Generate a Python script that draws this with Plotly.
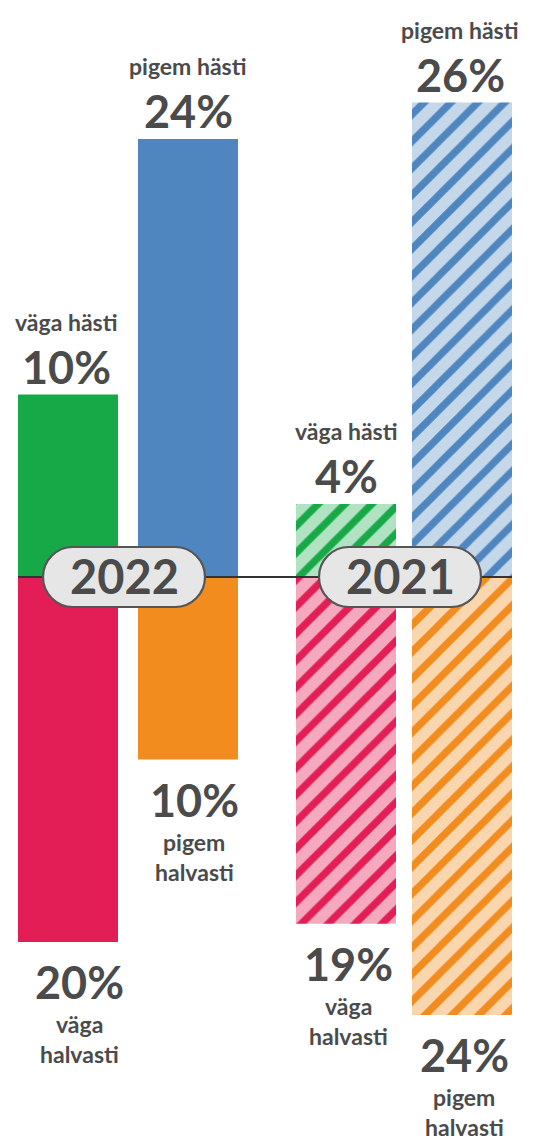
import plotly.graph_objects as go

# ---------------- data ----------------
years = ["2022", "2021"]
top_categories = ["väga hästi", "pigem hästi"]
bottom_categories = ["väga halvasti", "pigem halvasti"]
top_2022 = [10, 24]
bottom_2022 = [20, 10]
top_2021 = [4, 26]
bottom_2021 = [19, 24]

# ---------------- style / layout ----------------
PAGE_W, PAGE_H = 535, 1140
OFF = 8  # default body margin of the page
W, H = PAGE_W - OFF, PAGE_H - OFF
PX_PER_UNIT = 18.25
BASE_PX = 577  # baseline position in page pixels
y_top = (BASE_PX - OFF) / PX_PER_UNIT
y_bot = -(PAGE_H - BASE_PX) / PX_PER_UNIT

bar_centers = {"2022": [68, 188], "2021": [346, 462]}
pill_centers = {"2022": 124, "2021": 400}
top_label_dx = {"2022": [-2, 0], "2021": [0, -2]}
bottom_label_dx = {"2022": [11, 6], "2021": [2, 2]}
BAR_W = 100

solid_top = ["#17a948", "#4f86c0"]
solid_bot = ["#e31e56", "#f28c1e"]
light_top = ["#b1e3c3", "#c5d8ea"]
light_bot = ["#f5a9be", "#fad6ae"]

TXT = "#4b4b4b"
FONT = "Lato"
PCT_SIZE = 45
WORD_SIZE = 23

fig = go.Figure()

data = {
    "2022": (top_2022, bottom_2022),
    "2021": (top_2021, bottom_2021),
}

for yr in years:
    tops, bots = data[yr]
    for i in range(2):
        xc = bar_centers[yr][i]
        for val, sign, solid, light in (
            (tops[i], 1, solid_top[i], light_top[i]),
            (bots[i], -1, solid_bot[i], light_bot[i]),
        ):
            marker = dict(color=solid, line=dict(width=0))
            if yr == "2021":
                marker = dict(
                    color=light,
                    line=dict(width=0),
                    pattern=dict(shape="/", fgcolor=solid, bgcolor=light,
                                 size=19, solidity=0.38, fillmode="replace"),
                )
            fig.add_trace(go.Bar(
                x=[xc], y=[sign * val], width=[BAR_W], base=0,
                marker=marker, showlegend=False, hoverinfo="skip",
            ))

annotations = []
for yr in years:
    tops, bots = data[yr]
    for i in range(2):
        xc = bar_centers[yr][i]
        tdx = top_label_dx[yr][i]
        bdx = bottom_label_dx[yr][i]
        # top labels
        annotations.append(dict(
            x=xc, y=tops[i], xref="x", yref="y", text=f"{tops[i]}%",
            showarrow=False, yanchor="middle", yshift=28, xshift=tdx,
            font=dict(family=FONT, size=PCT_SIZE, color=TXT, weight="bold"),
        ))
        annotations.append(dict(
            x=xc, y=tops[i], xref="x", yref="y", text=top_categories[i],
            showarrow=False, yanchor="middle", yshift=28 + 45, xshift=tdx,
            font=dict(family=FONT, size=WORD_SIZE, color=TXT, weight="bold"),
        ))
        # bottom labels
        annotations.append(dict(
            x=xc, y=-bots[i], xref="x", yref="y", text=f"{bots[i]}%",
            showarrow=False, yanchor="middle", yshift=-40, xshift=bdx,
            font=dict(family=FONT, size=PCT_SIZE, color=TXT, weight="bold"),
        ))
        for j, word in enumerate(bottom_categories[i].split(" ")):
            annotations.append(dict(
                x=xc, y=-bots[i], xref="x", yref="y", text=word,
                showarrow=False, yanchor="middle", yshift=-40 - 42 - 30 * j,
                xshift=bdx,
                font=dict(family=FONT, size=WORD_SIZE, color=TXT, weight="bold"),
            ))
    # year pill label
    annotations.append(dict(
        x=pill_centers[yr], y=0, xref="x", yref="y", text=yr,
        showarrow=False, yanchor="middle", yshift=1,
        font=dict(family=FONT, size=47, color=TXT, weight="bold"),
    ))

# rounded pill path (pixels relative to anchor)
R, HW = 30, 81
k = 0.5523 * R
s = HW - R
pill = (
    f"M {-s},{-R} L {s},{-R} "
    f"C {s + k},{-R} {HW},{-k} {HW},0 "
    f"C {HW},{k} {s + k},{R} {s},{R} "
    f"L {-s},{R} "
    f"C {-s - k},{R} {-HW},{k} {-HW},0 "
    f"C {-HW},{-k} {-s - k},{-R} {-s},{-R} Z"
)

shapes = [dict(type="line", xref="x", yref="y", x0=18, x1=512, y0=0, y1=0,
               line=dict(color="#333333", width=2), layer="above")]
for yr in years:
    shapes.append(dict(
        type="path", xref="x", yref="y", xsizemode="pixel", ysizemode="pixel",
        xanchor=pill_centers[yr], yanchor=0, path=pill,
        fillcolor="#e6e6e6", line=dict(color="#555555", width=2.2), layer="above",
    ))

fig.update_layout(
    width=W, height=H, autosize=False,
    margin=dict(l=0, r=0, t=0, b=0, pad=0),
    paper_bgcolor="white", plot_bgcolor="white",
    barmode="overlay",
    xaxis=dict(range=[OFF, PAGE_W], visible=False, fixedrange=True),
    yaxis=dict(range=[y_bot, y_top], visible=False, fixedrange=True),
    annotations=annotations, shapes=shapes,
    font=dict(family=FONT),
)

fig.write_html("out.html")
